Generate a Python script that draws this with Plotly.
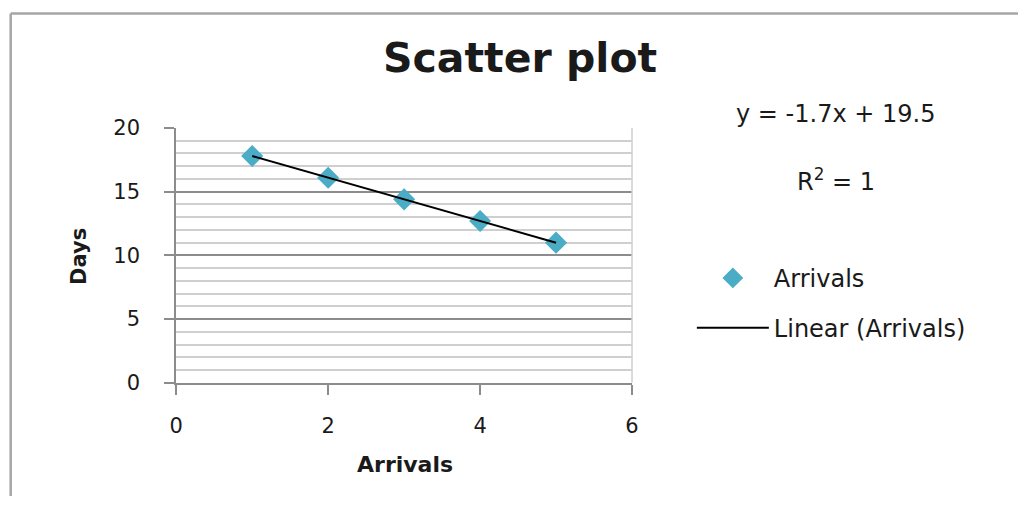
import numpy as np
import plotly.graph_objects as go

# ---- data ----
arrivals = [1, 2, 3, 4, 5]
days = [17.8, 16.1, 14.4, 12.7, 11.0]
x_ticks = [0, 2, 4, 6]
y_ticks = [0, 5, 10, 15, 20]
series_name = "Arrivals"
trend_name = "Linear (Arrivals)"
title_text = "Scatter plot"
x_title = "Arrivals"
y_title = "Days"

W, H = 1025, 508
# map reference-picture pixel positions to paper fractions
SX, OX = 0.989, 5.3
SY, OY = 0.957, 11.5
def px(x):
    return ((x - OX) / SX) / W
def py(y):
    return 1 - ((y - OY) / SY) / H

slope, intercept = np.polyfit(arrivals, days, 1)
fit = np.array(arrivals) * slope + intercept
r2 = 1 - np.sum((np.array(days) - fit) ** 2) / np.sum((np.array(days) - np.mean(days)) ** 2)

FONT = "DejaVu Sans"
TXT = "#1a1a1a"

fig = go.Figure()
fig.add_trace(go.Scatter(
    x=arrivals, y=days, mode="markers", name=series_name,
    marker=dict(symbol="diamond", size=17, color="#4bacc6", line=dict(width=0)),
    legend="legend",
))
fig.add_trace(go.Scatter(
    x=[arrivals[0], arrivals[-1]], y=[fit[0], fit[-1]], mode="lines", name=trend_name,
    line=dict(color="black", width=2),
    legend="legend2",
))

grid_major = "#8c8c8c"
grid_minor = "#cfcfcf"

fig.update_layout(
    autosize=True,
    margin=dict(l=0, r=0, t=0, b=0),
    paper_bgcolor="white", plot_bgcolor="white",
    font=dict(family=FONT, color=TXT, size=21),
    xaxis=dict(
        domain=[px(175), px(632)], range=[0, 6],
        tickvals=x_ticks, ticks="outside", ticklen=10, tickcolor=grid_major, tickwidth=1.5,
        showgrid=False, zeroline=False,
        showline=True, linecolor=grid_major, linewidth=2,
        tickfont=dict(size=21, family=FONT, color=TXT),
        ticklabelstandoff=13,
    ),
    yaxis=dict(
        domain=[py(384), py(128)], range=[0, 20],
        tickvals=y_ticks, ticks="outside", ticklen=10, tickcolor=grid_major, tickwidth=1.5,
        showgrid=True, gridcolor=grid_major, gridwidth=1.5,
        minor=dict(dtick=1, showgrid=True, gridcolor=grid_minor, gridwidth=1.5, ticks=""),
        zeroline=False,
        showline=True, linecolor=grid_major, linewidth=2,
        tickfont=dict(size=21, family=FONT, color=TXT),
        ticklabelstandoff=20,
    ),
    legend=dict(
        x=px(692), y=py(279), xanchor="left", yanchor="middle",
        font=dict(size=24, family=FONT, color=TXT), bgcolor="rgba(0,0,0,0)",
        itemwidth=72, borderwidth=0,
    ),
    legend2=dict(
        x=px(692), y=py(329), xanchor="left", yanchor="middle",
        font=dict(size=24, family=FONT, color=TXT), bgcolor="rgba(0,0,0,0)",
        itemwidth=72, borderwidth=0,
    ),
    showlegend=True,
)

# right edge of plot area
fig.add_shape(type="line", xref="paper", yref="paper",
              x0=px(632), x1=px(632), y0=py(384), y1=py(128),
              line=dict(color=grid_minor, width=1.5))
# outer chart border (left + top)
top_y = min(py(10), 1 - 1.5 / H)
fig.add_shape(type="line", xref="paper", yref="paper",
              x0=px(9), x1=px(9), y0=0, y1=top_y,
              line=dict(color="#a6a6a6", width=2.5))
fig.add_shape(type="line", xref="paper", yref="paper",
              x0=px(9), x1=1, y0=top_y, y1=top_y,
              line=dict(color="#a6a6a6", width=2.5))

annots = [
    dict(text="<b>%s</b>" % title_text, x=px(520), y=py(58), font=dict(size=41)),
    dict(text="<b>%s</b>" % x_title, x=px(404), y=py(466), font=dict(size=22)),
    dict(text="<b>%s</b>" % y_title, x=px(78), y=py(257), font=dict(size=21), textangle=-90),
    dict(text="y = %.1fx + %.1f" % (slope, intercept), x=px(836), y=py(114), font=dict(size=24)),
    dict(text="R<sup>2</sup> = %d" % round(r2), x=px(837), y=py(180), font=dict(size=24)),
]
for a in annots:
    f = dict(family=FONT, color=TXT)
    f.update(a.pop("font"))
    fig.add_annotation(xref="paper", yref="paper", xanchor="center", yanchor="middle",
                       showarrow=False, font=f, **a)

post = ("var gd=document.getElementById('{plot_id}');"
        "var de=document.documentElement, bd=document.body;"
        "de.style.margin='0';de.style.padding='0';de.style.height='100%';de.style.overflow='hidden';"
        "bd.style.margin='0';bd.style.padding='0';bd.style.height='100%';bd.style.overflow='hidden';"
        "if(gd.parentElement){gd.parentElement.style.height='100%';gd.parentElement.style.width='100%';}"
        "gd.style.height='100%';gd.style.width='100%';"
        "Plotly.Plots.resize(gd);")
fig.write_html("out.html", post_script=post, config={"displayModeBar": False},
               default_width="100%", default_height="100%")
